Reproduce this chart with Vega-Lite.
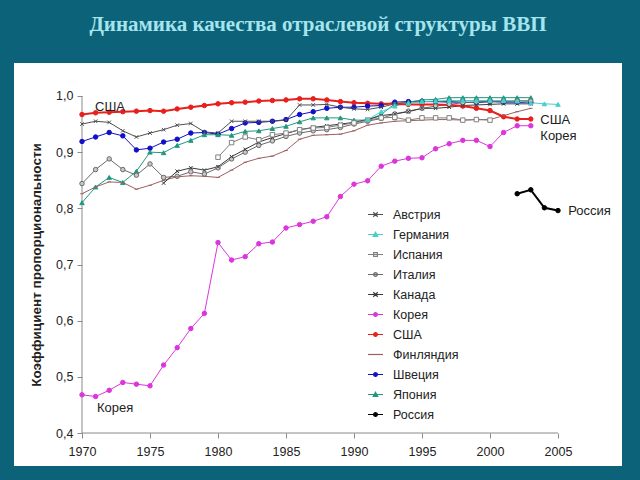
{
"$schema": "https://vega.github.io/schema/vega-lite/v6.json",
"width": 608, "height": 403,
"autosize": {"type": "none"},
"padding": {"left": 14, "top": 63, "right": 18, "bottom": 14},
"background": "#0c6379",
"view": {"fill": "white", "stroke": null},
"title": {"text": "Динамика качества отраслевой структуры ВВП", "font": "Liberation Serif", "fontSize": 21, "fontWeight": "bold", "color": "#a6e4ee", "anchor": "middle", "frame": "group", "offset": 11, "baseline": "alphabetic"},
"datasets": {
"axes": [{"year": 1970, "year2": 1970, "v": 0.4, "v2": 1.0}, {"year": 1970, "year2": 2005, "v": 0.4, "v2": 0.4}],
"notes": [
{"year": 1970.96, "v": 0.981, "t": "США"},
{"year": 2003.7, "v": 0.957, "t": "США"},
{"year": 2003.7, "v": 0.929, "t": "Корея"},
{"year": 1971.1, "v": 0.445, "t": "Корея"},
{"year": 2005.75, "v": 0.795, "t": "Россия"}
],
"series": [
{"c":"США","year":1970,"v":0.967},{"c":"США","year":1971,"v":0.970},{"c":"США","year":1972,"v":0.971},{"c":"США","year":1973,"v":0.972},{"c":"США","year":1974,"v":0.973},{"c":"США","year":1975,"v":0.974},{"c":"США","year":1976,"v":0.973},{"c":"США","year":1977,"v":0.977},{"c":"США","year":1978,"v":0.980},{"c":"США","year":1979,"v":0.983},
{"c":"США","year":1980,"v":0.986},{"c":"США","year":1981,"v":0.988},{"c":"США","year":1982,"v":0.989},{"c":"США","year":1983,"v":0.991},{"c":"США","year":1984,"v":0.992},{"c":"США","year":1985,"v":0.993},{"c":"США","year":1986,"v":0.995},{"c":"США","year":1987,"v":0.995},{"c":"США","year":1988,"v":0.993},{"c":"США","year":1989,"v":0.990},
{"c":"США","year":1990,"v":0.988},{"c":"США","year":1991,"v":0.987},{"c":"США","year":1992,"v":0.986},{"c":"США","year":1993,"v":0.986},{"c":"США","year":1994,"v":0.985},{"c":"США","year":1995,"v":0.985},{"c":"США","year":1996,"v":0.985},{"c":"США","year":1997,"v":0.984},{"c":"США","year":1998,"v":0.982},{"c":"США","year":1999,"v":0.978},
{"c":"США","year":2000,"v":0.974},{"c":"США","year":2001,"v":0.963},{"c":"США","year":2002,"v":0.959},{"c":"США","year":2003,"v":0.959},
{"c":"Корея","year":1970,"v":0.468},{"c":"Корея","year":1971,"v":0.465},{"c":"Корея","year":1972,"v":0.476},{"c":"Корея","year":1973,"v":0.490},{"c":"Корея","year":1974,"v":0.487},{"c":"Корея","year":1975,"v":0.484},{"c":"Корея","year":1976,"v":0.521},{"c":"Корея","year":1977,"v":0.552},{"c":"Корея","year":1978,"v":0.586},{"c":"Корея","year":1979,"v":0.613},
{"c":"Корея","year":1980,"v":0.739},{"c":"Корея","year":1981,"v":0.708},{"c":"Корея","year":1982,"v":0.714},{"c":"Корея","year":1983,"v":0.737},{"c":"Корея","year":1984,"v":0.740},{"c":"Корея","year":1985,"v":0.765},{"c":"Корея","year":1986,"v":0.771},{"c":"Корея","year":1987,"v":0.777},{"c":"Корея","year":1988,"v":0.785},{"c":"Корея","year":1989,"v":0.821},
{"c":"Корея","year":1990,"v":0.843},{"c":"Корея","year":1991,"v":0.849},{"c":"Корея","year":1992,"v":0.875},{"c":"Корея","year":1993,"v":0.884},{"c":"Корея","year":1994,"v":0.889},{"c":"Корея","year":1995,"v":0.890},{"c":"Корея","year":1996,"v":0.906},{"c":"Корея","year":1997,"v":0.915},{"c":"Корея","year":1998,"v":0.921},{"c":"Корея","year":1999,"v":0.921},
{"c":"Корея","year":2000,"v":0.910},{"c":"Корея","year":2001,"v":0.935},{"c":"Корея","year":2002,"v":0.947},{"c":"Корея","year":2003,"v":0.947},
{"c":"Швеция","year":1970,"v":0.919},{"c":"Швеция","year":1971,"v":0.927},{"c":"Швеция","year":1972,"v":0.935},{"c":"Швеция","year":1973,"v":0.929},{"c":"Швеция","year":1974,"v":0.904},{"c":"Швеция","year":1975,"v":0.907},{"c":"Швеция","year":1976,"v":0.918},{"c":"Швеция","year":1977,"v":0.923},{"c":"Швеция","year":1978,"v":0.934},{"c":"Швеция","year":1979,"v":0.935},
{"c":"Швеция","year":1980,"v":0.932},{"c":"Швеция","year":1981,"v":0.942},{"c":"Швеция","year":1982,"v":0.952},{"c":"Швеция","year":1983,"v":0.953},{"c":"Швеция","year":1984,"v":0.955},{"c":"Швеция","year":1985,"v":0.958},{"c":"Швеция","year":1986,"v":0.967},{"c":"Швеция","year":1987,"v":0.972},{"c":"Швеция","year":1988,"v":0.978},{"c":"Швеция","year":1989,"v":0.980},
{"c":"Швеция","year":1990,"v":0.980},{"c":"Швеция","year":1991,"v":0.982},{"c":"Швеция","year":1992,"v":0.983},{"c":"Швеция","year":1993,"v":0.989},{"c":"Швеция","year":1994,"v":0.990},{"c":"Швеция","year":1995,"v":0.990},{"c":"Швеция","year":1996,"v":0.990},{"c":"Швеция","year":1997,"v":0.989},{"c":"Швеция","year":1998,"v":0.989},{"c":"Швеция","year":1999,"v":0.988},
{"c":"Швеция","year":2000,"v":0.990},{"c":"Швеция","year":2001,"v":0.989},{"c":"Швеция","year":2002,"v":0.989},{"c":"Швеция","year":2003,"v":0.988},
{"c":"Австрия","year":1970,"v":0.950},{"c":"Австрия","year":1971,"v":0.955},{"c":"Австрия","year":1972,"v":0.953},{"c":"Австрия","year":1973,"v":0.938},{"c":"Австрия","year":1974,"v":0.927},{"c":"Австрия","year":1975,"v":0.934},{"c":"Австрия","year":1976,"v":0.940},{"c":"Австрия","year":1977,"v":0.948},{"c":"Австрия","year":1978,"v":0.951},{"c":"Австрия","year":1979,"v":0.936},
{"c":"Австрия","year":1980,"v":0.934},{"c":"Австрия","year":1981,"v":0.955},{"c":"Австрия","year":1982,"v":0.955},{"c":"Австрия","year":1983,"v":0.955},{"c":"Австрия","year":1984,"v":0.955},{"c":"Австрия","year":1985,"v":0.957},{"c":"Австрия","year":1986,"v":0.984},{"c":"Австрия","year":1987,"v":0.984},{"c":"Австрия","year":1988,"v":0.985},{"c":"Австрия","year":1989,"v":0.980},
{"c":"Австрия","year":1990,"v":0.977},{"c":"Австрия","year":1991,"v":0.976},{"c":"Австрия","year":1992,"v":0.980},{"c":"Австрия","year":1993,"v":0.986},{"c":"Австрия","year":1994,"v":0.989},{"c":"Австрия","year":1995,"v":0.990},{"c":"Австрия","year":1996,"v":0.990},{"c":"Австрия","year":1997,"v":0.990},{"c":"Австрия","year":1998,"v":0.992},{"c":"Австрия","year":1999,"v":0.991},
{"c":"Австрия","year":2000,"v":0.990},{"c":"Австрия","year":2001,"v":0.991},{"c":"Австрия","year":2002,"v":0.991},{"c":"Австрия","year":2003,"v":0.991},
{"c":"Япония","year":1970,"v":0.810},{"c":"Япония","year":1971,"v":0.838},{"c":"Япония","year":1972,"v":0.855},{"c":"Япония","year":1973,"v":0.846},{"c":"Япония","year":1974,"v":0.866},{"c":"Япония","year":1975,"v":0.900},{"c":"Япония","year":1976,"v":0.899},{"c":"Япония","year":1977,"v":0.912},{"c":"Япония","year":1978,"v":0.921},{"c":"Япония","year":1979,"v":0.931},
{"c":"Япония","year":1980,"v":0.931},{"c":"Япония","year":1981,"v":0.930},{"c":"Япония","year":1982,"v":0.937},{"c":"Япония","year":1983,"v":0.938},{"c":"Япония","year":1984,"v":0.942},{"c":"Япония","year":1985,"v":0.946},{"c":"Япония","year":1986,"v":0.954},{"c":"Япония","year":1987,"v":0.961},{"c":"Япония","year":1988,"v":0.961},{"c":"Япония","year":1989,"v":0.961},
{"c":"Япония","year":1990,"v":0.957},{"c":"Япония","year":1991,"v":0.957},{"c":"Япония","year":1992,"v":0.967},{"c":"Япония","year":1993,"v":0.986},{"c":"Япония","year":1994,"v":0.989},{"c":"Япония","year":1995,"v":0.993},{"c":"Япония","year":1996,"v":0.994},{"c":"Япония","year":1997,"v":0.997},{"c":"Япония","year":1998,"v":0.997},{"c":"Япония","year":1999,"v":0.997},
{"c":"Япония","year":2000,"v":0.997},{"c":"Япония","year":2001,"v":0.997},{"c":"Япония","year":2002,"v":0.997},{"c":"Япония","year":2003,"v":0.997},
{"c":"Италия","year":1970,"v":0.844},{"c":"Италия","year":1971,"v":0.869},{"c":"Италия","year":1972,"v":0.888},{"c":"Италия","year":1973,"v":0.869},{"c":"Италия","year":1974,"v":0.859},{"c":"Италия","year":1975,"v":0.879},{"c":"Италия","year":1976,"v":0.855},{"c":"Италия","year":1977,"v":0.857},{"c":"Италия","year":1978,"v":0.865},{"c":"Италия","year":1979,"v":0.861},
{"c":"Италия","year":1980,"v":0.872},{"c":"Италия","year":1981,"v":0.888},{"c":"Италия","year":1982,"v":0.900},{"c":"Италия","year":1983,"v":0.912},{"c":"Италия","year":1984,"v":0.920},{"c":"Италия","year":1985,"v":0.928},{"c":"Италия","year":1986,"v":0.934},{"c":"Италия","year":1987,"v":0.938},{"c":"Италия","year":1988,"v":0.940},{"c":"Италия","year":1989,"v":0.944},
{"c":"Италия","year":1990,"v":0.950},{"c":"Италия","year":1991,"v":0.955},{"c":"Италия","year":1992,"v":0.960},{"c":"Италия","year":1993,"v":0.968},{"c":"Италия","year":1994,"v":0.973},{"c":"Италия","year":1995,"v":0.978},{"c":"Италия","year":1996,"v":0.982},{"c":"Италия","year":1997,"v":0.985},{"c":"Италия","year":1998,"v":0.988},{"c":"Италия","year":1999,"v":0.989},
{"c":"Италия","year":2000,"v":0.990},{"c":"Италия","year":2001,"v":0.990},{"c":"Италия","year":2002,"v":0.991},{"c":"Италия","year":2003,"v":0.991},
{"c":"Финляндия","year":1970,"v":0.826},{"c":"Финляндия","year":1971,"v":0.838},{"c":"Финляндия","year":1972,"v":0.847},{"c":"Финляндия","year":1973,"v":0.846},{"c":"Финляндия","year":1974,"v":0.834},{"c":"Финляндия","year":1975,"v":0.841},{"c":"Финляндия","year":1976,"v":0.850},{"c":"Финляндия","year":1977,"v":0.856},{"c":"Финляндия","year":1978,"v":0.858},{"c":"Финляндия","year":1979,"v":0.857},
{"c":"Финляндия","year":1980,"v":0.855},{"c":"Финляндия","year":1981,"v":0.868},{"c":"Финляндия","year":1982,"v":0.882},{"c":"Финляндия","year":1983,"v":0.889},{"c":"Финляндия","year":1984,"v":0.893},{"c":"Финляндия","year":1985,"v":0.903},{"c":"Финляндия","year":1986,"v":0.923},{"c":"Финляндия","year":1987,"v":0.930},{"c":"Финляндия","year":1988,"v":0.931},{"c":"Финляндия","year":1989,"v":0.932},
{"c":"Финляндия","year":1990,"v":0.938},{"c":"Финляндия","year":1991,"v":0.948},{"c":"Финляндия","year":1992,"v":0.952},{"c":"Финляндия","year":1993,"v":0.955},{"c":"Финляндия","year":1994,"v":0.956},{"c":"Финляндия","year":1995,"v":0.957},{"c":"Финляндия","year":1996,"v":0.958},{"c":"Финляндия","year":1997,"v":0.958},{"c":"Финляндия","year":1998,"v":0.957},{"c":"Финляндия","year":1999,"v":0.958},
{"c":"Финляндия","year":2000,"v":0.958},{"c":"Финляндия","year":2001,"v":0.965},{"c":"Финляндия","year":2002,"v":0.972},{"c":"Финляндия","year":2003,"v":0.978},
{"c":"Канада","year":1976,"v":0.845},{"c":"Канада","year":1977,"v":0.866},{"c":"Канада","year":1978,"v":0.872},{"c":"Канада","year":1979,"v":0.868},
{"c":"Канада","year":1980,"v":0.874},{"c":"Канада","year":1981,"v":0.892},{"c":"Канада","year":1982,"v":0.905},{"c":"Канада","year":1983,"v":0.918},{"c":"Канада","year":1984,"v":0.926},{"c":"Канада","year":1985,"v":0.933},{"c":"Канада","year":1986,"v":0.940},{"c":"Канада","year":1987,"v":0.944},{"c":"Канада","year":1988,"v":0.947},{"c":"Канада","year":1989,"v":0.950},
{"c":"Канада","year":1990,"v":0.953},{"c":"Канада","year":1991,"v":0.958},{"c":"Канада","year":1992,"v":0.965},{"c":"Канада","year":1993,"v":0.968},{"c":"Канада","year":1994,"v":0.972},{"c":"Канада","year":1995,"v":0.978},{"c":"Канада","year":1996,"v":0.978},{"c":"Канада","year":1997,"v":0.980},{"c":"Канада","year":1998,"v":0.983},{"c":"Канада","year":1999,"v":0.984},
{"c":"Канада","year":2000,"v":0.985},{"c":"Канада","year":2001,"v":0.986},{"c":"Канада","year":2002,"v":0.986},{"c":"Канада","year":2003,"v":0.986},
{"c":"Испания","year":1980,"v":0.891},{"c":"Испания","year":1981,"v":0.917},{"c":"Испания","year":1982,"v":0.927},{"c":"Испания","year":1983,"v":0.922},{"c":"Испания","year":1984,"v":0.931},{"c":"Испания","year":1985,"v":0.934},{"c":"Испания","year":1986,"v":0.940},{"c":"Испания","year":1987,"v":0.943},{"c":"Испания","year":1988,"v":0.944},{"c":"Испания","year":1989,"v":0.948},
{"c":"Испания","year":1990,"v":0.952},{"c":"Испания","year":1991,"v":0.957},{"c":"Испания","year":1992,"v":0.961},{"c":"Испания","year":1993,"v":0.962},{"c":"Испания","year":1994,"v":0.957},{"c":"Испания","year":1995,"v":0.961},{"c":"Испания","year":1996,"v":0.961},{"c":"Испания","year":1997,"v":0.961},{"c":"Испания","year":1998,"v":0.957},{"c":"Испания","year":1999,"v":0.958},
{"c":"Испания","year":2000,"v":0.957},
{"c":"Германия","year":1991,"v":0.958},{"c":"Германия","year":1992,"v":0.972},{"c":"Германия","year":1993,"v":0.982},{"c":"Германия","year":1994,"v":0.987},{"c":"Германия","year":1995,"v":0.990},{"c":"Германия","year":1996,"v":0.991},{"c":"Германия","year":1997,"v":0.992},{"c":"Германия","year":1998,"v":0.992},{"c":"Германия","year":1999,"v":0.992},{"c":"Германия","year":2000,"v":0.992},
{"c":"Германия","year":2001,"v":0.992},{"c":"Германия","year":2002,"v":0.991},{"c":"Германия","year":2003,"v":0.988},{"c":"Германия","year":2004,"v":0.986},{"c":"Германия","year":2005,"v":0.985},
{"c":"Россия","year":2002,"v":0.826},{"c":"Россия","year":2003,"v":0.833},{"c":"Россия","year":2004,"v":0.801},{"c":"Россия","year":2005,"v":0.796}
]
},
"encoding": {
"x": {"field": "year", "type": "quantitative",
 "scale": {"domain": [1965, 2009.706], "nice": false, "zero": false},
 "axis": {"values": [1970,1975,1980,1985,1990,1995,2000,2005], "format": "d", "offset": -33, "domain": false, "grid": false, "ticks": true, "tickSize": 5, "tickColor": "#8a8a8a", "labelFont": "Liberation Sans", "labelFontSize": 12.5, "labelColor": "#222222", "labelPadding": 7, "labelFlush": false, "labelOverlap": false, "title": null}},
"y": {"field": "v", "type": "quantitative",
 "scale": {"domain": [0.3413, 1.0587], "nice": false, "zero": false},
 "axis": {"values": [0.4,0.5,0.6,0.7,0.8,0.9,1.0], "labelExpr": "replace(format(datum.value, '.1f'), '.', ',')", "offset": -68, "domain": false, "grid": false, "tickSize": 5, "tickColor": "#8a8a8a", "labelFont": "Liberation Sans", "labelFontSize": 12.5, "labelColor": "#222222", "labelPadding": 4, "title": "Коэффициент пропорциональности", "titleFont": "Liberation Sans", "titleFontSize": 13.5, "titleFontWeight": "bold", "titleColor": "#222222", "titlePadding": 12}}
},
"resolve": {"scale": {"color": "independent", "fill": "independent", "shape": "independent"}},
"layer": [
{"data": {"name": "axes"}, "mark": {"type": "rule", "color": "#8a8a8a", "strokeWidth": 1}, "encoding": {"x2": {"field": "year2"}, "y2": {"field": "v2"}}},
{"data": {"name": "series"}, "transform": [{"filter": "datum.c != 'США' && datum.c != 'Россия'"}],
 "mark": {"type": "line", "strokeWidth": 1},
 "encoding": {"color": {"field": "c", "type": "nominal", "legend": null,
  "scale": {"domain": ["Австрия","Германия","Испания","Италия","Канада","Корея","США","Финляндия","Швеция","Япония","Россия"], "range": ["#505050","#45D0CC","#808080","#6a6a6a","#3a3a3a","#DC35DC","#E8201C","#A06060","#1010C8","#23977F","#000000"]}}}},
{"data": {"name": "series"}, "transform": [{"filter": "datum.c == 'США' || datum.c == 'Россия'"}],
 "mark": {"type": "line", "strokeWidth": 2},
 "encoding": {"color": {"field": "c", "type": "nominal", "legend": null,
  "scale": {"domain": ["Австрия","Германия","Испания","Италия","Канада","Корея","США","Финляндия","Швеция","Япония","Россия"], "range": ["#505050","#45D0CC","#808080","#6a6a6a","#3a3a3a","#DC35DC","#E8201C","#A06060","#1010C8","#23977F","#000000"]}}}},
{"data": {"name": "series"},
 "mark": {"type": "point", "filled": false, "opacity": 1, "size": 20, "strokeWidth": 1},
 "encoding": {
  "color": {"field": "c", "type": "nominal", "legend": null,
   "scale": {"domain": ["Австрия","Германия","Испания","Италия","Канада","Корея","США","Финляндия","Швеция","Япония","Россия"], "range": ["#505050","#45D0CC","#808080","#6a6a6a","#3a3a3a","#DC35DC","#E8201C","#A06060","#1010C8","#23977F","#000000"]}},
  "fill": {"field": "c", "type": "nominal", "legend": null,
   "scale": {"domain": ["Австрия","Германия","Испания","Италия","Канада","Корея","США","Финляндия","Швеция","Япония","Россия"], "range": ["transparent","#45D0CC","#ffffff","#c8c8c8","transparent","#DC35DC","#E8201C","transparent","#1010C8","#23977F","#000000"]}},
  "shape": {"field": "c", "type": "nominal", "legend": null,
   "scale": {"domain": ["Австрия","Германия","Испания","Италия","Канада","Корея","США","Финляндия","Швеция","Япония","Россия"], "range": ["M-0.8,-0.8L0.8,0.8M-0.8,0.8L0.8,-0.8","triangle-up","square","circle","M-0.8,-0.8L0.8,0.8M-0.8,0.8L0.8,-0.8","circle","circle","M-0.8,0H0.8","circle","triangle-up","circle"]}}}},
{"data": {"name": "series"}, "transform": [{"filter": "datum.year < 0"}],
 "mark": {"type": "point", "filled": false, "opacity": 1, "strokeWidth": 1.2},
 "encoding": {
  "color": {"field": "c", "type": "nominal",
   "scale": {"domain": ["Австрия","Германия","Испания","Италия","Канада","Корея","США","Финляндия","Швеция","Япония","Россия"], "range": ["#505050","#45D0CC","#808080","#6a6a6a","#3a3a3a","#DC35DC","#E8201C","#A06060","#1010C8","#23977F","#000000"]},
   "legend": {"title": null, "orient": "none", "legendX": 353, "legendY": 143, "labelFont": "Liberation Sans", "labelFontSize": 12.5, "labelColor": "#222222", "symbolSize": 225, "rowPadding": 5, "labelOffset": 9, "symbolStrokeWidth": 1.2}},
  "fill": {"field": "c", "type": "nominal",
   "scale": {"domain": ["Австрия","Германия","Испания","Италия","Канада","Корея","США","Финляндия","Швеция","Япония","Россия"], "range": ["transparent","#45D0CC","#ffffff","#c8c8c8","transparent","#DC35DC","#E8201C","transparent","#1010C8","#23977F","#000000"]}},
  "shape": {"field": "c", "type": "nominal",
   "scale": {"domain": ["Австрия","Германия","Испания","Италия","Канада","Корея","США","Финляндия","Швеция","Япония","Россия"], "range": ["M-1,0H1M-0.3,-0.3L0.3,0.3M-0.3,0.3L0.3,-0.3","M-1,0H1M-0.3,0.25L0,-0.3L0.3,0.25Z","M-1,0H1M-0.25,-0.25H0.25V0.25H-0.25Z","M-1,0H1M-0.25,0A0.25,0.25 0 1,1 0.25,0A0.25,0.25 0 1,1 -0.25,0","M-1,0H1M-0.3,-0.3L0.3,0.3M-0.3,0.3L0.3,-0.3","M-1,0H1M-0.25,0A0.25,0.25 0 1,1 0.25,0A0.25,0.25 0 1,1 -0.25,0","M-1,0H1M-0.25,0A0.25,0.25 0 1,1 0.25,0A0.25,0.25 0 1,1 -0.25,0","M-1,0H1","M-1,0H1M-0.25,0A0.25,0.25 0 1,1 0.25,0A0.25,0.25 0 1,1 -0.25,0","M-1,0H1M-0.3,0.25L0,-0.3L0.3,0.25Z","M-1,0H1M-0.25,0A0.25,0.25 0 1,1 0.25,0A0.25,0.25 0 1,1 -0.25,0"]}}}},
{"data": {"name": "notes"},
 "mark": {"type": "text", "align": "left", "baseline": "middle", "font": "Liberation Sans", "fontSize": 13, "color": "#222222"},
 "encoding": {"text": {"field": "t"}}}
]
}
